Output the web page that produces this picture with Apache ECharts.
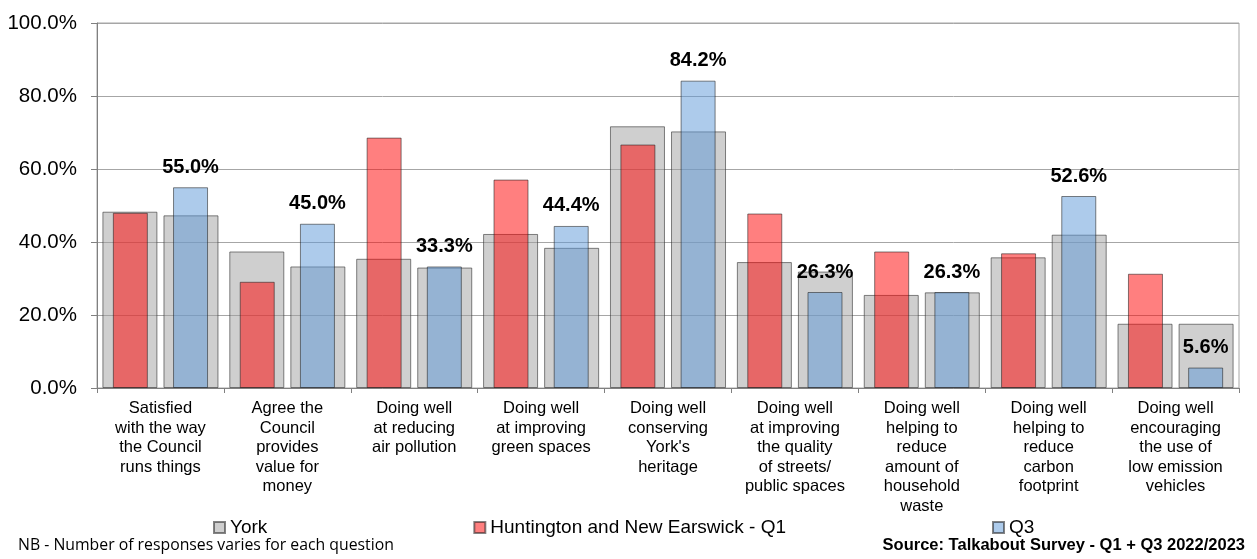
<!DOCTYPE html>
<html>
<head>
<meta charset="utf-8">
<script src="https://cdn.jsdelivr.net/npm/echarts@6/dist/echarts.min.js"></script>
<style>
html,body{margin:0;padding:0;background:#fff;}
#chart{width:1257px;height:559px;}
</style>
</head>
<body>
<div id="chart"></div>
<script>
const categories = [
  'Satisfied\nwith the way\nthe Council\nruns things',
  'Agree the\nCouncil\nprovides\nvalue for\nmoney',
  'Doing well\nat reducing\nair pollution',
  'Doing well\nat improving\ngreen spaces',
  "Doing well\nconserving\nYork's\nheritage",
  'Doing well\nat improving\nthe quality\nof streets/\npublic spaces',
  'Doing well\nhelping to\nreduce\namount of\nhousehold\nwaste',
  'Doing well\nhelping to\nreduce\ncarbon\nfootprint',
  'Doing well\nencouraging\nthe use of\nlow emission\nvehicles'
];
const yorkQ1 = [48.3, 37.4, 35.4, 42.2, 71.7, 34.5, 25.5, 35.8, 17.6];
const yorkQ3 = [47.3, 33.3, 33.0, 38.4, 70.3, 31.9, 26.2, 42.0, 17.6];
const huntingtonQ1 = [48.0, 29.1, 68.6, 57.1, 66.7, 47.8, 37.4, 36.9, 31.3];
const huntingtonQ3 = [55.0, 45.0, 33.3, 44.4, 84.2, 26.3, 26.3, 52.6, 5.6];
const yTicks = [0, 20, 40, 60, 80, 100];

const FONT = '"Liberation Sans", Arial, sans-serif';
const chart = echarts.init(document.getElementById('chart'));

const greyStyle = { color: 'rgba(160,160,160,0.5)', borderColor: 'rgba(50,50,50,0.6)', borderWidth: 1 };
const redStyle = { color: 'rgba(255,0,0,0.5)', borderColor: 'rgba(30,30,30,0.55)', borderWidth: 1 };
const blueStyle = { color: 'rgba(91,151,215,0.5)', borderColor: 'rgba(30,30,30,0.55)', borderWidth: 1 };

chart.setOption({
  animation: false,
  backgroundColor: '#fff',
  grid: { left: 97, right: 18, top: 23, bottom: 171, show: true, borderColor: '#a6a6a6', borderWidth: 1 },
  legend: {
    data: ['York', 'Huntington and New Earswick - Q1', 'Q3'],
    left: 208, top: 513,
    itemWidth: 11, itemHeight: 11, itemGap: 206,
    icon: 'rect',
    textStyle: { fontFamily: FONT, fontSize: 19, color: '#000' }
  },
  xAxis: [
    {
      type: 'category', data: categories,
      axisLine: { lineStyle: { color: '#808080', width: 1 } },
      axisTick: { show: true, length: 5, lineStyle: { color: '#808080' } },
      axisLabel: { interval: 0, margin: 11, fontFamily: FONT, fontSize: 16.5, lineHeight: 19.5, color: '#000', align: 'center' }
    },
    { type: 'category', data: categories, show: false }
  ],
  yAxis: {
    type: 'value', min: 0, max: 100, interval: 20,
    axisLine: { show: true, lineStyle: { color: '#808080' } },
    axisTick: { show: true, length: 6, lineStyle: { color: '#808080' } },
    splitLine: { lineStyle: { color: '#a6a6a6', width: 1 } },
    axisLabel: { margin: 20, fontFamily: FONT, fontSize: 20.5, color: '#000',
      formatter: v => yTicks.indexOf(v) >= 0 ? v.toFixed(1) + '%' : '' }
  },
  series: [
    { name: 'York', type: 'bar', xAxisIndex: 0, data: yorkQ1, barWidth: 55, barGap: '11%', itemStyle: greyStyle, z: 1 },
    { name: 'York', type: 'bar', xAxisIndex: 0, data: yorkQ3, barWidth: 55, barGap: '11%', itemStyle: greyStyle, z: 1 },
    { name: 'Huntington and New Earswick - Q1', type: 'bar', xAxisIndex: 1, data: huntingtonQ1, barWidth: 35, barGap: '72%', itemStyle: redStyle, z: 2 },
    { name: 'Q3', type: 'bar', xAxisIndex: 1, data: huntingtonQ3, barWidth: 35, barGap: '72%', itemStyle: blueStyle, z: 3,
      label: { show: true, position: 'top', distance: 10, fontFamily: FONT, fontSize: 20, fontWeight: 'bold', color: '#000',
        formatter: p => p.value.toFixed(1) + '%' } }
  ],
  graphic: [
    { type: 'text', left: 18, top: 537, style: { text: 'NB - Number of responses varies for each question', fontFamily: '"Open Sans", "Noto Sans", sans-serif', fontSize: 15.8, fill: '#000' } },
    { type: 'text', right: 12, top: 537, style: { text: 'Source: Talkabout Survey - Q1 + Q3 2022/2023', fontFamily: FONT, fontSize: 16.5, fontWeight: 'bold', fill: '#000' } }
  ]
});
</script>
</body>
</html>
